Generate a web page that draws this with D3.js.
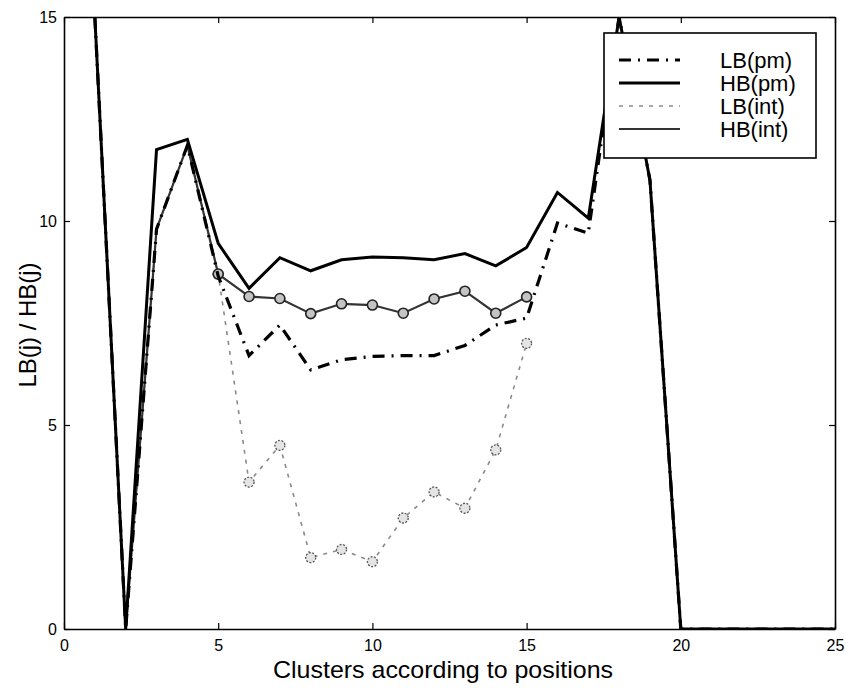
<!DOCTYPE html>
<html><head><meta charset="utf-8">
<script src="https://cdn.jsdelivr.net/npm/d3@7/dist/d3.min.js"></script>
<style>body{margin:0;background:#fff}svg{display:block}text{font-family:"Liberation Sans",Arial,sans-serif}</style>
</head><body><svg id="c" width="846" height="689"></svg>
<script>
const xTicks = [0, 5, 10, 15, 20, 25];
const yTicks = [0, 5, 10, 15];
const lbPmX = [1,2,3,4,5,6,7,8,9,10,11,12,13,14,15,16,17,18,19,20,21,22,23,24,25];
const lbPmY = [15,0,9.8,11.85,8.65,6.7,7.45,6.35,6.6,6.68,6.7,6.7,6.95,7.45,7.62,9.95,9.7,15,11.0,0,0,0,0,0,0];
const hbPmX = [1,2,3,4,5,6,7,8,9,10,11,12,13,14,15,16,17,18,19,20,21,22,23,24,25];
const hbPmY = [15,0,11.75,12.0,9.45,8.35,9.1,8.78,9.05,9.12,9.1,9.05,9.2,8.9,9.35,10.7,10.07,15,11.0,0,0,0,0,0,0];
const lbIntX = [2,3,4,5,6,7,8,9,10,11,12,13,14,15];
const lbIntY = [0,9.8,11.85,8.7,3.6,4.5,1.75,1.95,1.65,2.72,3.36,2.96,4.39,7.0];
const hbIntX = [2,3,4,5,6,7,8,9,10,11,12,13,14,15];
const hbIntY = [0,9.8,11.85,8.7,8.15,8.1,7.73,7.97,7.94,7.74,8.09,8.28,7.74,8.14];
const legendLabels = ["LB(pm)", "HB(pm)", "LB(int)", "HB(int)"];

const svg = d3.select("#c");
const L = 64, R = 835, T = 17, B = 629;
const x = d3.scaleLinear().domain([0, 25]).range([L, R]);
const y = d3.scaleLinear().domain([0, 15]).range([B, T]);

svg.append("defs").append("clipPath").attr("id", "clip")
  .append("rect").attr("x", L).attr("y", T).attr("width", R - L).attr("height", B - T);

// axes
const axB = d3.axisBottom(x).tickValues(xTicks).tickSizeInner(-6).tickSizeOuter(0).tickPadding(11);
const axT = d3.axisTop(x).tickValues(xTicks).tickSizeInner(-6).tickSizeOuter(0).tickFormat("");
const axL = d3.axisLeft(y).tickValues(yTicks).tickSizeInner(-6).tickSizeOuter(0).tickPadding(7);
const axR = d3.axisRight(y).tickValues(yTicks).tickSizeInner(-6).tickSizeOuter(0).tickFormat("");
function style(g){ g.select(".domain").attr("stroke","#000").attr("stroke-width",1.6);
  g.selectAll(".tick line").attr("stroke","#000").attr("stroke-width",1.2);
  g.selectAll(".tick text").attr("font-size",16).attr("fill","#000"); }
svg.append("g").attr("transform",`translate(0,${B})`).call(axB).call(style);
svg.append("g").attr("transform",`translate(0,${T})`).call(axT).call(style);
svg.append("g").attr("transform",`translate(${L},0)`).call(axL).call(style);
svg.append("g").attr("transform",`translate(${R},0)`).call(axR).call(style);

const plot = svg.append("g").attr("clip-path", "url(#clip)");
const line = d3.line().x(d => x(d[0])).y(d => y(d[1]));
const zip = (a, b) => a.map((v, i) => [v, b[i]]);

// LB(int): gray dashed with circle markers
plot.append("path").datum(zip(lbIntX, lbIntY)).attr("d", line)
  .attr("fill","none").attr("stroke","#8a8a8a").attr("stroke-width",1.6).attr("stroke-dasharray","4,6");
plot.selectAll(".m1").data(zip(lbIntX, lbIntY).slice(3)).enter().append("circle")
  .attr("cx", d => x(d[0])).attr("cy", d => y(d[1])).attr("r", 5)
  .attr("fill","#e4e4e4").attr("stroke","#555").attr("stroke-width",1.3).attr("stroke-dasharray","2,1.5");
// HB(int): dark solid with markers
plot.append("path").datum(zip(hbIntX, hbIntY)).attr("d", line)
  .attr("fill","none").attr("stroke","#333").attr("stroke-width",2.2);
plot.selectAll(".m2").data(zip(hbIntX, hbIntY).slice(3)).enter().append("circle")
  .attr("cx", d => x(d[0])).attr("cy", d => y(d[1])).attr("r", 5)
  .attr("fill","#c4c4c4").attr("stroke","#222").attr("stroke-width",1.6);
// HB(pm)
plot.append("path").datum(zip(hbPmX, hbPmY)).attr("d", line)
  .attr("fill","none").attr("stroke","#000").attr("stroke-width",3);
// LB(pm)
plot.append("path").datum(zip(lbPmX, lbPmY)).attr("d", line)
  .attr("fill","none").attr("stroke","#000").attr("stroke-width",3.2).attr("stroke-dasharray","12,7,2,7");

// legend
const lg = svg.append("g");
lg.append("rect").attr("x",604).attr("y",33).attr("width",212).attr("height",125)
  .attr("fill","#fff").attr("stroke","#000").attr("stroke-width",1.6);
const rows = [60, 83, 106, 129];
const styles = [
  {stroke:"#000", w:3.2, dash:"12,7,2,7"},
  {stroke:"#000", w:3, dash:null},
  {stroke:"#8a8a8a", w:1.6, dash:"4,6"},
  {stroke:"#333", w:2.2, dash:null}
];
legendLabels.forEach((t, i) => {
  const s = styles[i];
  const ln = lg.append("line").attr("x1",619).attr("x2",680).attr("y1",rows[i]).attr("y2",rows[i])
    .attr("stroke",s.stroke).attr("stroke-width",s.w);
  if (s.dash) ln.attr("stroke-dasharray", s.dash);
  lg.append("text").attr("x",720).attr("y",rows[i]).attr("dy","0.36em")
    .attr("font-size",22).attr("fill","#000").text(t);
});

// axis labels
svg.append("text").attr("x",443).attr("y",678).attr("text-anchor","middle")
  .attr("font-size",24).attr("textLength",340).attr("lengthAdjust","spacingAndGlyphs")
  .attr("fill","#000").text("Clusters according to positions");
svg.append("text").attr("transform",`translate(36,325) rotate(-90)`).attr("text-anchor","middle")
  .attr("font-size",24).attr("textLength",125).attr("lengthAdjust","spacing")
  .attr("fill","#000").text("LB(j) / HB(j)");
</script></body></html>
